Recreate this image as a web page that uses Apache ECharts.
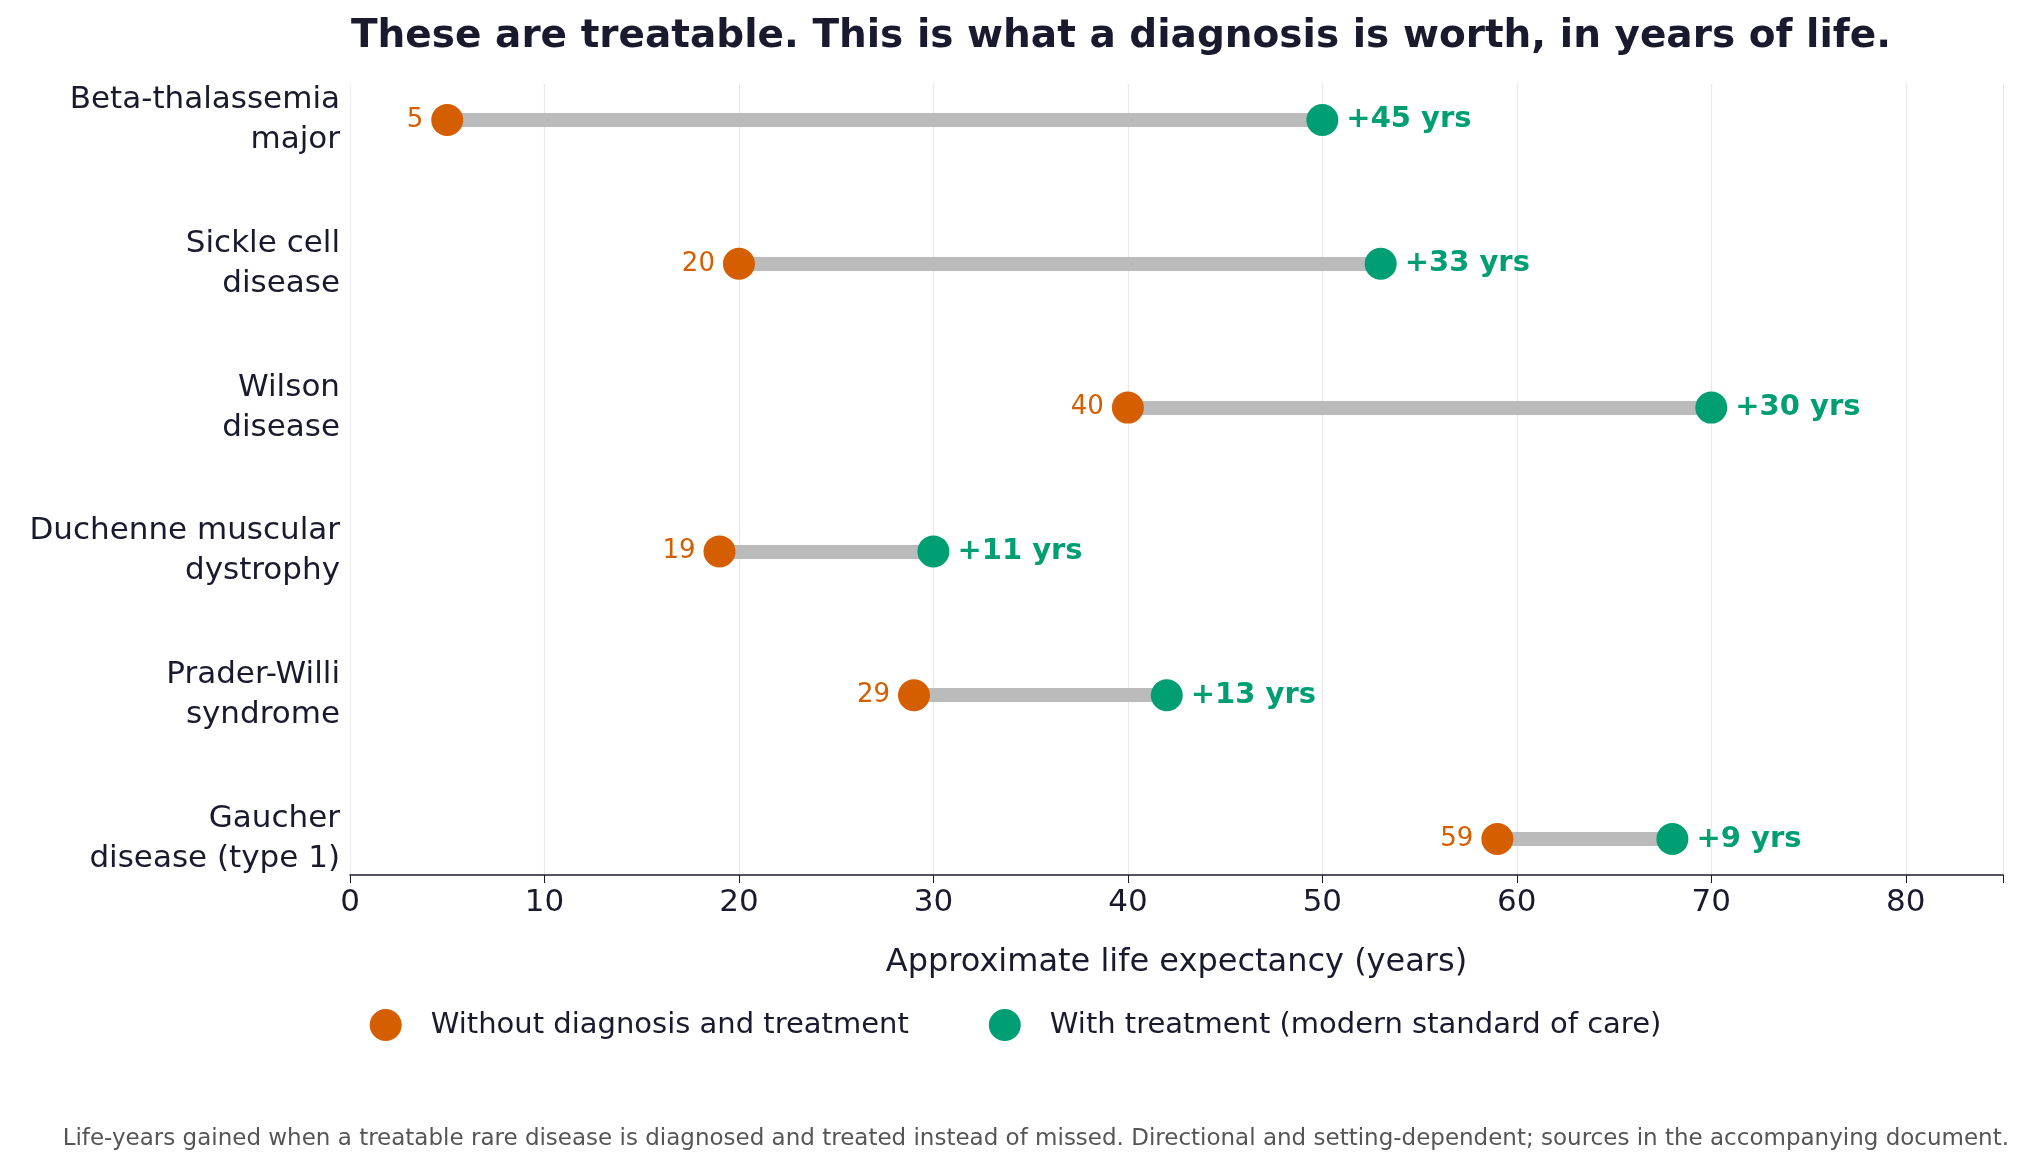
<!DOCTYPE html>
<html>
<head>
    <meta charset="UTF-8">
    <title></title>
    <style>body{margin:0;background:#fff}</style>
</head>
<body>
<div id="main" style="width: 2031px;height:1174px;"></div>
</body>
<script type="text/javascript" src="https://cdn.jsdelivr.net/npm/echarts@6/dist/echarts.min.js"></script>
<script type="text/javascript">
    var diseases = ['Beta-thalassemia\nmajor', 'Sickle cell\ndisease', 'Wilson\ndisease',
        'Duchenne muscular\ndystrophy', 'Prader-Willi\nsyndrome', 'Gaucher\ndisease (type 1)'];
    var without = [5, 20, 40, 19, 29, 59];
    var withTreat = [50, 53, 70, 30, 42, 68];
    var xTicks = [0, 10, 20, 30, 40, 50, 60, 70, 80];

    var orange = '#d55e00', green = '#009e73', ink = '#1a1a2e';
    var rows = diseases.map(function (d, i) { return i; });

    var myChart = echarts.init(document.getElementById('main'));
    var option = {
        animation: false,
        textStyle: { fontFamily: 'DejaVu Sans' },
        title: {
            text: 'These are treatable. This is what a diagnosis is worth, in years of life.',
            left: 1116, textAlign: 'center', top: 12,
            textStyle: { fontSize: 39, fontWeight: 'bold', color: ink }
        },
        graphic: [{
            type: 'text', right: 22, top: 1128,
            style: { text: 'Life-years gained when a treatable rare disease is diagnosed and treated instead of missed. Directional and setting-dependent; sources in the accompanying document.',
                fontSize: 23, fill: '#555', fontFamily: 'DejaVu Sans' }
        }],
        legend: {
            top: 1004, left: 'center', itemGap: 80, itemWidth: 32, itemHeight: 32,
            textStyle: { fontSize: 29, color: ink, padding: [0, 0, 0, 24] },
            data: [{ name: 'Without diagnosis and treatment', icon: 'circle' },
                   { name: 'With treatment (modern standard of care)', icon: 'circle' }]
        },
        grid: { left: 350, right: 28, top: 84, bottom: 299 },
        xAxis: {
            type: 'value', min: 0, max: 85, interval: 10,
            name: 'Approximate life expectancy (years)', nameLocation: 'middle', nameGap: 72,
            nameTextStyle: { fontSize: 32, color: ink },
            axisLine: { onZero: false, lineStyle: { color: ink, width: 1.5 } },
            axisTick: { show: true, length: 8, lineStyle: { color: ink } },
            axisLabel: { fontSize: 31, color: ink, margin: 12,
                formatter: function (v) { return xTicks.indexOf(v) >= 0 ? v : ''; } },
            splitLine: { show: true, lineStyle: { color: '#e8e8e8', width: 1.3 } }
        },
        yAxis: {
            type: 'value', min: -0.25, max: 5.25, inverse: true,
            axisLine: { show: true, lineStyle: { color: '#f0f0f0' } },
            axisTick: { show: false },
            splitLine: { show: false },
            axisLabel: {
                customValues: rows, fontSize: 31, color: ink, lineHeight: 40, margin: 10,
                formatter: function (v) { return diseases[Math.round(v)]; }
            }
        },
        series: [{
            type: 'lines', coordinateSystem: 'cartesian2d', silent: true, z: 1,
            lineStyle: { color: '#bbbbbb', width: 14, opacity: 1 },
            data: rows.map(function (i) { return { coords: [[without[i], i], [withTreat[i], i]] }; })
        }, {
            name: 'Without diagnosis and treatment', type: 'scatter', symbolSize: 32,
            itemStyle: { color: orange, opacity: 1 },
            label: { show: true, position: 'left', distance: 8, fontSize: 26, color: orange,
                formatter: function (p) { return p.value[0]; } },
            data: rows.map(function (i) { return [without[i], i]; }), z: 5
        }, {
            name: 'With treatment (modern standard of care)', type: 'scatter', symbolSize: 32,
            itemStyle: { color: green, opacity: 1 },
            label: { show: true, position: 'right', distance: 8, fontSize: 29, fontWeight: 'bold', color: green,
                formatter: function (p) { return '+' + (withTreat[p.dataIndex] - without[p.dataIndex]) + ' yrs'; } },
            data: rows.map(function (i) { return [withTreat[i], i]; }), z: 5
        }]
    };
    myChart.setOption(option);
</script>
</html>
